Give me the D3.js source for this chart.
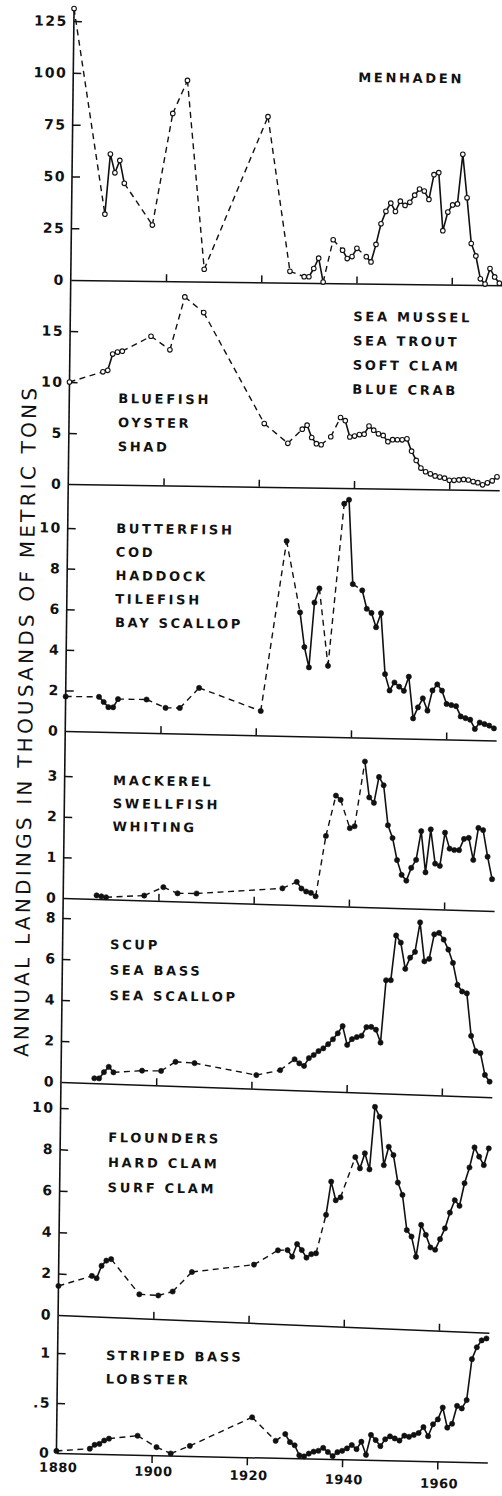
<!DOCTYPE html>
<html>
<head>
<meta charset="utf-8">
<script src="https://cdn.jsdelivr.net/npm/d3@7"></script>
<style>
  body { margin: 0; background: #fff; }
  svg text { font-family: "DejaVu Sans", "Liberation Sans", sans-serif; fill: #111; }
  .solid { fill: none; stroke: #111; stroke-width: 1.6; stroke-linejoin: round; }
  .dash { fill: none; stroke: #111; stroke-width: 1.4; stroke-dasharray: 6,4.5; }
  .axis path, .axis line { stroke: #111; stroke-width: 1.5; }
</style>
</head>
<body>
<div id="chart"></div>
<script>
// annual landings, thousands of metric tons, [year, value]
var menhaden = [[1880,131],[1887,32],[1888,61],[1889,52],[1890,58],[1891,47],[1897,27],[1901,81],[1904,97],[1908,6],
  [1921,80],[1926,5.5],[1929,3],[1930,3],[1931,7],[1932,12],[1933,0.5],[1935,21],[1937,16],[1938,12],[1939,13],[1940,17],
  [1942,13],[1943,10.5],[1944,19],[1945,29],[1946,35],[1947,39],[1948,35],[1949,40],[1950,38],[1951,39.5],[1952,43],
  [1953,46],[1954,45],[1955,41],[1956,53],[1957,54],[1958,26],[1959,35],[1960,38.5],[1961,39],[1962,63],[1963,42],
  [1964,20],[1965,14],[1966,3],[1967,0.5],[1968,8],[1969,4],[1970,1]];

var seaMussel = [[1880,10],[1887,11.05],[1888,11.2],[1889,12.8],[1890,13.0],[1891,13.1],[1897,14.6],[1901,13.3],[1904,18.5],
  [1908,17.0],[1921,6.2],[1926,4.3],[1929,5.7],[1930,6.1],[1931,4.9],[1932,4.3],[1933,4.2],[1935,5.0],[1937,6.9],[1938,6.6],
  [1939,5.0],[1940,5.1],[1941,5.25],[1942,5.3],[1943,6.1],[1944,5.7],[1945,5.35],[1946,5.2],[1947,4.6],[1948,4.8],[1949,4.8],
  [1950,4.8],[1951,4.9],[1952,3.7],[1953,2.8],[1954,2.05],[1955,1.7],[1956,1.5],[1957,1.3],[1958,1.2],[1959,1.1],[1960,0.9],
  [1961,0.9],[1962,0.95],[1963,1.0],[1964,0.95],[1965,0.8],[1966,0.7],[1967,0.5],[1968,0.7],[1969,0.9],[1970,1.3]];

var butterfish = [[1880,1.7],[1887,1.72],[1888,1.47],[1889,1.22],[1890,1.22],[1891,1.63],[1897,1.64],[1901,1.25],[1904,1.26],
  [1908,2.27],[1921,1.2],[1926,9.6],[1929,6.1],[1930,4.4],[1931,3.4],[1932,6.6],[1933,7.3],[1935,3.5],[1938,11.5],[1939,11.7],
  [1940,7.55],[1942,7.25],[1943,6.35],[1944,6.15],[1945,5.45],[1946,6.15],[1947,3.15],[1948,2.35],[1949,2.75],[1950,2.55],
  [1951,2.35],[1952,3.05],[1953,1.0],[1954,1.55],[1955,2.0],[1956,1.4],[1957,2.4],[1958,2.7],[1959,2.4],[1960,1.75],
  [1961,1.7],[1962,1.65],[1963,1.15],[1964,1.07],[1965,1.0],[1966,0.55],[1967,0.87],[1968,0.8],[1969,0.73],[1970,0.6]];

var mackerel = [[1887,0.09],[1888,0.07],[1889,0.05],[1897,0.12],[1901,0.34],[1904,0.2],[1908,0.21],[1926,0.4],[1929,0.57],
  [1930,0.41],[1931,0.34],[1932,0.31],[1933,0.23],[1935,1.72],[1937,2.72],[1938,2.62],[1940,1.93],[1941,1.98],[1943,3.58],
  [1944,2.7],[1945,2.57],[1946,3.21],[1947,3.01],[1948,2.03],[1949,1.72],[1950,1.18],[1951,0.82],[1952,0.68],[1953,1.0],
  [1954,1.2],[1955,1.91],[1956,0.9],[1957,1.96],[1958,1.12],[1959,1.07],[1960,1.89],[1961,1.5],[1962,1.47],[1963,1.47],
  [1964,1.75],[1965,1.78],[1966,1.24],[1967,2.03],[1968,1.98],[1969,1.33],[1970,0.78]];

var scup = [[1887,0.24],[1888,0.24],[1889,0.55],[1890,0.82],[1891,0.56],[1897,0.69],[1901,0.71],[1904,1.18],[1908,1.15],
  [1921,0.67],[1926,0.95],[1929,1.51],[1930,1.32],[1931,1.2],[1932,1.59],[1933,1.75],[1934,1.95],[1935,2.09],[1936,2.3],
  [1937,2.55],[1938,2.85],[1939,3.21],[1940,2.3],[1941,2.59],[1942,2.7],[1943,2.77],[1944,3.2],[1945,3.22],[1946,3.09],
  [1947,2.47],[1948,5.52],[1949,5.53],[1950,7.72],[1951,7.38],[1952,6.11],[1953,6.66],[1954,6.95],[1955,8.4],[1956,6.51],
  [1957,6.64],[1958,7.84],[1959,7.92],[1960,7.6],[1961,7.12],[1962,6.48],[1963,5.42],[1964,5.1],[1965,5.02],[1966,2.95],
  [1967,2.22],[1968,2.13],[1969,1.07],[1970,0.75]];

var flounders = [[1880,1.4],[1887,1.95],[1888,1.85],[1889,2.46],[1890,2.72],[1891,2.8],[1897,1.16],[1901,1.14],[1904,1.36],
  [1908,2.34],[1921,2.82],[1926,3.56],[1928,3.59],[1929,3.28],[1930,3.9],[1931,3.62],[1932,3.26],[1933,3.44],[1934,3.49],
  [1936,5.37],[1937,6.98],[1938,6.09],[1939,6.24],[1942,8.21],[1943,7.68],[1944,8.42],[1945,7.65],[1946,10.68],[1947,10.21],
  [1948,7.88],[1949,8.78],[1950,8.39],[1951,7.07],[1952,6.48],[1953,4.79],[1954,4.49],[1955,3.52],[1956,5.07],[1957,4.6],
  [1958,4.0],[1959,3.9],[1960,4.42],[1961,4.95],[1962,5.72],[1963,6.33],[1964,6.07],[1965,7.17],[1966,7.94],[1967,8.92],
  [1968,8.48],[1969,8.08],[1970,8.9]];

var stripedBass = [[1880,0.02],[1887,0.05],[1888,0.09],[1889,0.1],[1890,0.135],[1891,0.155],[1897,0.19],[1901,0.08],[1904,0.02],
  [1908,0.1],[1921,0.4],[1926,0.17],[1928,0.24],[1929,0.16],[1930,0.13],[1931,0.03],[1932,0.02],[1933,0.05],[1934,0.07],
  [1935,0.08],[1936,0.11],[1937,0.07],[1938,0.03],[1939,0.07],[1940,0.085],[1941,0.11],[1942,0.145],[1943,0.105],[1944,0.18],
  [1945,0.05],[1946,0.25],[1947,0.2],[1948,0.14],[1949,0.21],[1950,0.24],[1951,0.22],[1952,0.2],[1953,0.25],[1954,0.24],
  [1955,0.26],[1956,0.28],[1957,0.34],[1958,0.25],[1959,0.37],[1960,0.42],[1961,0.54],[1962,0.34],[1963,0.38],[1964,0.56],
  [1965,0.535],[1966,0.62],[1967,1.03],[1968,1.15],[1969,1.22],[1970,1.24]];

// tick values and labels
var menhadenTicks = [0, 25, 50, 75, 100, 125];
var seaMusselTicks = [0, 5, 10, 15];
var butterfishTicks = [0, 2, 4, 6, 8, 10];
var mackerelTicks = [0, 1, 2, 3];
var scupTicks = [0, 2, 4, 6, 8];
var floundersTicks = [0, 2, 4, 6, 8, 10];
var stripedBassTicks = [0, 0.5, 1];
var stripedBassTickLabels = ["0", ".5", "1"];
var decadeTicks = [1900, 1920, 1940, 1960];
var yearLabels = [1880, 1900, 1920, 1940, 1960];

// species names
var menhadenNames = ["MENHADEN"];
var seaMusselNames = ["SEA MUSSEL", "SEA TROUT", "SOFT CLAM", "BLUE CRAB"];
var bluefishNames = ["BLUEFISH", "OYSTER", "SHAD"];
var butterfishNames = ["BUTTERFISH", "COD", "HADDOCK", "TILEFISH", "BAY SCALLOP"];
var mackerelNames = ["MACKEREL", "SWELLFISH", "WHITING"];
var scupNames = ["SCUP", "SEA BASS", "SEA SCALLOP"];
var floundersNames = ["FLOUNDERS", "HARD CLAM", "SURF CLAM"];
var stripedBassNames = ["STRIPED BASS", "LOBSTER"];

var yTitle = "ANNUAL LANDINGS IN THOUSANDS OF METRIC TONS";

var width = 502, height = 1496;
var axisX = 65;

// the scanned page is turned slightly and the lower panels sag to the right
var panels = [
  { data: menhaden, ticks: menhadenTicks, y0: 280, y1: 21, tilt: 0, open: true,
    blocks: [{ names: menhadenNames, x: 350, y: 78.5, lh: 24 }] },
  { data: seaMussel, ticks: seaMusselTicks, y0: 484, y1: 331, tilt: 0.002, open: true,
    blocks: [{ names: seaMusselNames, x: 348, y: 317.5, lh: 24.3 }, { names: bluefishNames, x: 114, y: 402.5, lh: 24 }] },
  { data: butterfish, ticks: butterfishTicks, y0: 731, y1: 528, tilt: 0.01, open: false,
    blocks: [{ names: butterfishNames, x: 113.5, y: 532.5, lh: 23.5 }] },
  { data: mackerel, ticks: mackerelTicks, y0: 898, y1: 776, tilt: 0.018, open: false,
    blocks: [{ names: mackerelNames, x: 113.5, y: 784.5, lh: 23 }] },
  { data: scup, ticks: scupTicks, y0: 1082, y1: 918, tilt: 0.023, open: false,
    blocks: [{ names: scupNames, x: 112.5, y: 948.5, lh: 25.5 }] },
  { data: flounders, ticks: floundersTicks, y0: 1315, y1: 1108, tilt: 0.029, open: false,
    blocks: [{ names: floundersNames, x: 113, y: 1141.5, lh: 25 }] },
  { data: stripedBass, ticks: stripedBassTicks, tickLabels: stripedBassTickLabels, y0: 1453, y1: 1353, tilt: 0.01, open: false,
    blocks: [{ names: stripedBassNames, x: 113.5, y: 1359.5, lh: 23.5 }], bottom: true }
];

var x = d3.scaleLinear().domain([1880, 1970.5]).range([axisX, 496]);

var svg = d3.select("#chart").append("svg")
    .attr("width", width)
    .attr("height", height);

var page = svg.append("g")
    .attr("transform", "rotate(0.7," + axisX + ",750)");

// continuous left axis
page.append("line")
    .attr("x1", axisX).attr("x2", axisX)
    .attr("y1", 7).attr("y2", panels[panels.length - 1].y0)
    .attr("stroke", "#111")
    .attr("stroke-width", 1.6);

panels.forEach(function (p) {
    var y = d3.scaleLinear().domain([0, p.ticks[p.ticks.length - 1]]).range([p.y0, p.y1]);
    var skew = Math.atan(p.tilt) * 180 / Math.PI;
    var g = page.append("g")
        .attr("transform", "translate(" + axisX + ",0) skewY(" + skew + ") translate(" + (-axisX) + ",0)");

    // y ticks, pointing into the plot
    var yAxis = g.append("g")
        .attr("class", "axis")
        .attr("transform", "translate(" + axisX + ",0)")
        .call(d3.axisLeft(y)
            .tickValues(p.ticks)
            .tickSize(-8)
            .tickPadding(6)
            .tickFormat(function (d, i) { return p.tickLabels ? p.tickLabels[i] : d3.format("d")(d); }));
    yAxis.select(".domain").remove();
    yAxis.selectAll(".tick line").filter(function (d) { return d === 0; }).remove();
    yAxis.selectAll("text")
        .attr("font-family", "DejaVu Sans")
        .attr("font-size", 14)
        .attr("font-weight", "bold")
        .attr("letter-spacing", 1.5)
        .attr("fill", "#111");

    // baseline with decade ticks
    g.append("g")
        .attr("class", "axis")
        .attr("transform", "translate(0," + p.y0 + ")")
        .call(d3.axisBottom(x)
            .tickValues(decadeTicks)
            .tickSize(p.bottom ? 8 : -7)
            .tickSizeOuter(0)
            .tickFormat(""));

    // segments: solid between consecutive years, dashed across gaps
    var line = d3.line()
        .x(function (d) { return x(d[0]); })
        .y(function (d) { return y(d[1]); });
    var runs = [], run = [p.data[0]];
    for (var i = 1; i < p.data.length; i++) {
        if (p.data[i][0] - p.data[i - 1][0] > 1) {
            g.append("path").attr("class", "dash").attr("d", line([p.data[i - 1], p.data[i]]));
            if (run.length > 1) runs.push(run);
            run = [p.data[i]];
        } else {
            run.push(p.data[i]);
        }
    }
    if (run.length > 1) runs.push(run);
    runs.forEach(function (r) {
        g.append("path").attr("class", "solid").attr("d", line(r));
    });

    g.selectAll("circle.pt")
        .data(p.data).enter()
        .append("circle")
        .attr("class", "pt")
        .attr("cx", function (d) { return x(d[0]); })
        .attr("cy", function (d) { return y(d[1]); })
        .attr("r", p.open ? 2.3 : 2.6)
        .attr("fill", p.open ? "#fff" : "#111")
        .attr("stroke", "#111")
        .attr("stroke-width", p.open ? 1.1 : 0.6);

    // species labels
    p.blocks.forEach(function (b) {
        page.append("g").selectAll("text")
            .data(b.names).enter()
            .append("text")
            .attr("x", b.x)
            .attr("y", function (d, i) { return b.y + i * b.lh; })
            .attr("font-size", 13)
            .attr("font-weight", "bold")
            .attr("letter-spacing", 2.7)
            .text(function (d) { return d; });
    });
});

// year labels under the last panel (they drift down toward the right on the scan)
var last = panels[panels.length - 1];
page.append("g").selectAll("text")
    .data(yearLabels).enter()
    .append("text")
    .attr("x", function (d) { return x(d) + 2; })
    .attr("y", function (d) { return last.y0 + 19 + (x(d) - axisX) * 0.03; })
    .attr("text-anchor", "middle")
    .attr("font-size", 13)
    .attr("font-weight", "bold")
    .attr("letter-spacing", 0.5)
    .text(function (d) { return d; });

// y axis title
page.append("text")
    .attr("transform", "translate(32,723) rotate(-90)")
    .attr("text-anchor", "middle")
    .attr("font-size", 20)
    .attr("textLength", 669)
    .attr("lengthAdjust", "spacing")
    .text(yTitle);
</script>
</body>
</html>
